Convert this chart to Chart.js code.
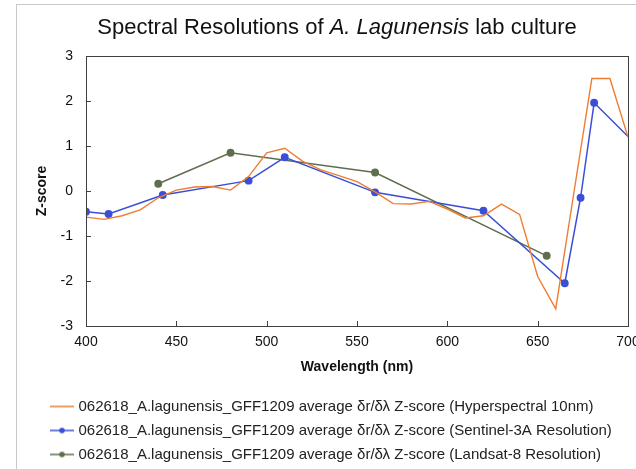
<!DOCTYPE html>
<html>
<head>
<meta charset="utf-8">
<script src="https://cdn.jsdelivr.net/npm/chart.js@4"></script>
<style>
  html, body { margin: 0; padding: 0; background: #fff; }
  #wrap { width: 636px; height: 469px; }
</style>
</head>
<body>
<div id="wrap"><canvas id="chart" width="636" height="469"></canvas></div>
<script>
// hyperspectral (10 nm) curve
const hyperWl = [400, 410, 420, 430, 440, 450, 460, 470, 480, 490, 500, 510, 520, 530, 540, 550,
    560, 570, 580, 590, 600, 610, 620, 630, 640, 650, 660, 670, 680, 690, 700];
const hyperZ = [-0.58, -0.63, -0.55, -0.42, -0.15, 0.02, 0.09, 0.10, 0.02, 0.32, 0.85, 0.95, 0.66, 0.47, 0.34, 0.21,
    -0.02, -0.28, -0.29, -0.23, -0.40, -0.60, -0.55, -0.29, -0.52, -1.90, -2.62, -0.05, 2.50, 2.50, 1.20];

// Sentinel-3A band centres
const s3Wl = [400, 412.5, 442.5, 490, 510, 560, 620, 665, 673.75, 681.25, 708.75];
const s3Z = [-0.46, -0.51, -0.09, 0.23, 0.75, -0.03, -0.44, -2.05, -0.15, 1.96, 0.86];

// Landsat-8 band centres
const l8Wl = [440, 480, 560, 655];
const l8Z = [0.16, 0.85, 0.41, -1.44];

const xTicks = [400, 450, 500, 550, 600, 650, 700];
const yTicks = [-3, -2, -1, 0, 1, 2, 3];

const labels = [
    '062618_A.lagunensis_GFF1209 average δr/δλ Z-score (Hyperspectral 10nm)',
    '062618_A.lagunensis_GFF1209 average δr/δλ Z-score (Sentinel-3A Resolution)',
    '062618_A.lagunensis_GFF1209 average δr/δλ Z-score (Landsat-8 Resolution)',
];
const colors = ['#ED7D31', '#3B4FD6', '#5E6E4E'];

const FONT = '"Liberation Sans", Arial, sans-serif';

function pairs(xs, ys) {
    return xs.map((x, i) => ({x: x, y: ys[i]}));
}

// little legend symbol: line with a dot in the middle
function legendSymbol(color, dot) {
    const c = document.createElement('canvas');
    c.width = 24; c.height = 8;
    const g = c.getContext('2d');
    g.strokeStyle = color; g.lineWidth = 1.5;
    g.beginPath(); g.moveTo(0, 4); g.lineTo(24, 4); g.stroke();
    if (dot) {
        g.fillStyle = color;
        g.beginPath(); g.arc(12, 4, 2.8, 0, Math.PI * 2); g.fill();
    }
    return c;
}

const decor = {
    id: 'decor',
    afterLayout(chart) {
        // nudge the legend block to where the original sits
        chart.legend.left += 14;
        chart.legend.top += 14;
        chart.legend.bottom += 14;
    },
    beforeDraw(chart) {
        const ctx = chart.ctx;
        ctx.save();
        ctx.fillStyle = '#fff';
        ctx.fillRect(0, 0, chart.width, chart.height);
        ctx.strokeStyle = '#c8c8c8';
        ctx.lineWidth = 1;
        ctx.strokeRect(16.5, 4.5, 700, 600);
        ctx.restore();
    },
    afterDraw(chart) {
        const ctx = chart.ctx;
        const a = chart.chartArea;
        const xs = chart.scales.x, ys = chart.scales.y;
        ctx.save();
        // frame + inside ticks
        ctx.strokeStyle = '#404040';
        ctx.lineWidth = 1;
        ctx.strokeRect(a.left + 0.5, a.top + 0.5, a.right - a.left, a.bottom - a.top);
        ctx.beginPath();
        xs.ticks.forEach((t, i) => {
            const px = Math.round(xs.getPixelForTick(i)) + 0.5;
            ctx.moveTo(px, a.bottom); ctx.lineTo(px, a.bottom - 5);
        });
        ys.ticks.forEach((t, i) => {
            const py = Math.round(ys.getPixelForTick(i)) + 0.5;
            ctx.moveTo(a.left, py); ctx.lineTo(a.left + 5, py);
        });
        ctx.stroke();

        // title with italic species name
        const parts = [
            ['Spectral Resolutions of ', 'normal'],
            ['A. Lagunensis', 'italic'],
            [' lab culture', 'normal'],
        ];
        const size = 22;
        let total = 0;
        parts.forEach(p => {
            ctx.font = p[1] + ' ' + size + 'px ' + FONT;
            total += ctx.measureText(p[0]).width;
        });
        let x = 337 - total / 2;
        ctx.fillStyle = '#111';
        ctx.textBaseline = 'middle';
        parts.forEach(p => {
            ctx.font = p[1] + ' ' + size + 'px ' + FONT;
            ctx.fillText(p[0], x, 28);
            x += ctx.measureText(p[0]).width;
        });
        ctx.restore();
    }
};

const data = {
    datasets: [{
        label: labels[0],
        data: pairs(hyperWl, hyperZ),
        borderColor: colors[0],
        backgroundColor: colors[0],
        borderWidth: 1.4,
        pointRadius: 0,
    }, {
        label: labels[1],
        data: pairs(s3Wl, s3Z),
        borderColor: colors[1],
        backgroundColor: colors[1],
        borderWidth: 1.5,
        pointRadius: 3.2,
        pointStyle: 'circle',
    }, {
        label: labels[2],
        data: pairs(l8Wl, l8Z),
        borderColor: colors[2],
        backgroundColor: colors[2],
        borderWidth: 1.5,
        pointRadius: 3.2,
        pointStyle: 'circle',
    }]
};

const config = {
    type: 'line',
    data: data,
    options: {
        responsive: false,
        animation: false,
        layout: { padding: { left: 30, right: 8, top: 56, bottom: 11 } },
        scales: {
            x: {
                type: 'linear',
                min: 400, max: 700,
                afterBuildTicks: s => { s.ticks = xTicks.map(v => ({value: v})); },
                grid: { display: false, drawTicks: false },
                border: { display: false },
                ticks: { color: '#111', padding: 8, font: { size: 14, family: FONT } },
                title: { display: true, text: 'Wavelength (nm)', color: '#111', padding: { top: 2, bottom: 0 },
                    font: { size: 14, weight: 'bold', family: FONT } },
                afterFit: s => { s.height = 50; s.paddingLeft = 0; s.paddingRight = 0; }
            },
            y: {
                min: -3, max: 3,
                afterBuildTicks: s => { s.ticks = yTicks.map(v => ({value: v})); },
                grid: { display: false, drawTicks: false },
                border: { display: false },
                ticks: { color: '#111', padding: 13, font: { size: 14, family: FONT } },
                title: { display: true, text: 'Z-score', color: '#111', padding: { top: 4, bottom: 0 },
                    font: { size: 14, weight: 'bold', family: FONT } },
                afterFit: s => { s.width = 56; }
            }
        },
        plugins: {
            legend: {
                position: 'bottom',
                align: 'start',
                labels: {
                    usePointStyle: true,
                    pointStyleWidth: 18,
                    padding: 9,
                    color: '#222',
                    font: { size: 15, family: FONT },
                    generateLabels: chart => chart.data.datasets.map((ds, i) => ({
                        text: ds.label,
                        pointStyle: legendSymbol(ds.borderColor, i > 0),
                        fillStyle: ds.borderColor,
                        strokeStyle: ds.borderColor,
                        lineWidth: 0,
                        datasetIndex: i,
                        fontColor: '#222',
                    }))
                }
            },
            title: { display: false },
            tooltip: { enabled: false }
        }
    },
    plugins: [decor]
};

const myChart = new Chart(document.getElementById('chart'), config);
</script>
</body>
</html>
